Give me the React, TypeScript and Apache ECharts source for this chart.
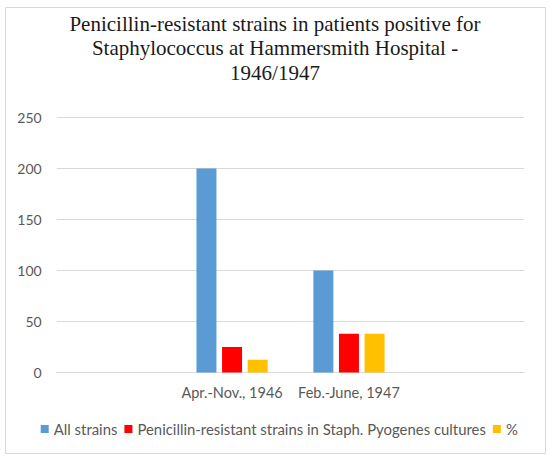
import React, { useEffect, useRef } from "react";
import * as echarts from "echarts";

const titleText =
  "Penicillin-resistant strains in patients positive for\nStaphylococcus at Hammersmith Hospital -\n1946/1947";
const categories = ["", "Apr.-Nov., 1946", "Feb.-June, 1947", ""];
const allStrains = [null, 200, 100, null];
const resistant = [null, 25, 38, null];
const percent = [null, 12.5, 38, null];
const seriesNames = [
  "All strains",
  "Penicillin-resistant strains in Staph. Pyogenes cultures",
  "%",
];
const colors = ["#5b9bd5", "#ff0000", "#ffc000"];

export default function App() {
  const ref = useRef<HTMLDivElement>(null);
  useEffect(() => {
    if (!ref.current) return;
    const chart = echarts.init(ref.current, undefined, { renderer: "svg" });
    const labelFont = { fontFamily: "Lato", fontSize: 14.5, color: "#595959" };
    chart.setOption({
      animation: false,
      backgroundColor: "#ffffff",
      title: {
        text: titleText,
        left: "center",
        top: 12,
        padding: 0,
        textStyle: {
          fontFamily: "Liberation Serif",
          fontWeight: "normal",
          fontSize: 21,
          lineHeight: 24.3,
          color: "#1a1a1a",
        },
      },
      graphic: [
        {
          type: "rect",
          shape: { x: 5.5, y: 7.5, width: 540, height: 446 },
          style: { fill: "none", stroke: "#d9d9d9", lineWidth: 1 },
          silent: true,
        },
      ],
      legend: {
        left: 40.7,
        top: 421,
        padding: 0,
        icon: "rect",
        itemWidth: 8,
        itemHeight: 8,
        itemGap: 7,
        textStyle: { ...labelFont, fontSize: 14.9, lineHeight: 16 },
        data: seriesNames,
      },
      grid: { left: 56.7, right: 25.7, top: 117.5, bottom: 90.5 },
      xAxis: {
        type: "category",
        data: categories,
        axisTick: { show: false },
        axisLine: { lineStyle: { color: "#d9d9d9", width: 1 } },
        axisLabel: { ...labelFont, margin: 12, interval: 0 },
      },
      yAxis: {
        type: "value",
        min: 0,
        max: 250,
        interval: 50,
        axisLine: { show: false },
        axisTick: { show: false },
        splitLine: { lineStyle: { color: "#d9d9d9", width: 1 } },
        axisLabel: { ...labelFont, fontSize: 14, margin: 15 },
      },
      series: [
        { name: seriesNames[0], type: "bar", data: allStrains, barWidth: 20, barGap: "28%", itemStyle: { color: colors[0] } },
        { name: seriesNames[1], type: "bar", data: resistant, barWidth: 20, barGap: "28%", itemStyle: { color: colors[1] } },
        { name: seriesNames[2], type: "bar", data: percent, barWidth: 20, barGap: "28%", itemStyle: { color: colors[2] } },
      ],
    });
    return () => chart.dispose();
  }, []);
  return (
    <div
      ref={ref}
      style={{ position: "absolute", left: 0, top: 0, width: 550, height: 463 }}
    />
  );
}
